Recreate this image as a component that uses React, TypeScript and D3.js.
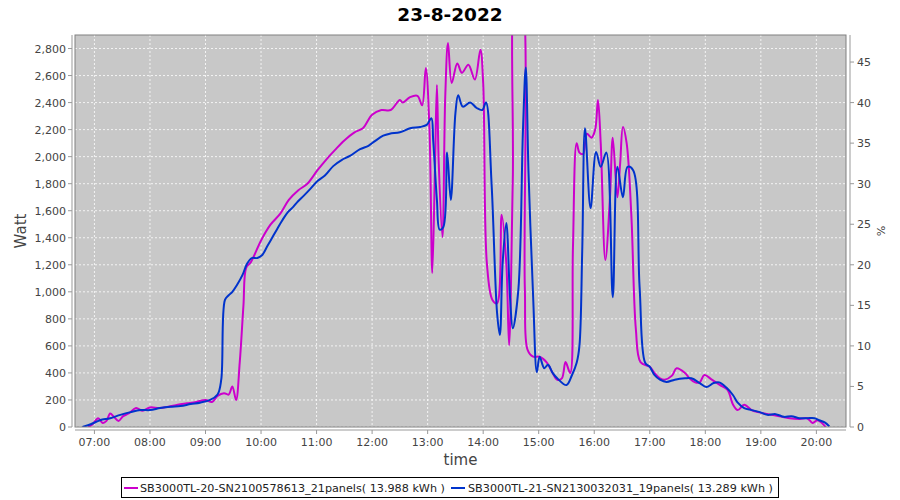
import React from "react";
import * as d3 from "d3";

const TITLE = "23-8-2022";
const SERIES_NAMES = [
  "SB3000TL-20-SN2100578613_21panels( 13.988 kWh )",
  "SB3000TL-21-SN2130032031_19panels( 13.289 kWh )",
];

const magentaTimes = [
  "06:53","06:58","07:04","07:09","07:13","07:17","07:21","07:26","07:31","07:37","07:45","07:52",
  "08:00","08:10","08:20","08:30","08:40","08:50","09:00","09:07","09:13","09:20","09:25","09:29",
  "09:33","09:37","09:41","09:44","09:49","10:00","10:10","10:21","10:30","10:40","10:50","11:01",
  "11:10","11:20","11:30","11:41","11:50","12:00","12:10","12:20","12:30","12:33","12:41","12:49",
  "12:54","12:58","13:02","13:05","13:08","13:10","13:12","13:16","13:19","13:22","13:26","13:32",
  "13:37","13:44","13:51","13:57","14:00","14:04","14:10","14:15","14:20","14:25","14:28","14:32",
  "14:36","14:40","14:45","14:48","14:54","15:01","15:09","15:15","15:20","15:25","15:29","15:34",
  "15:37","15:41","15:44","15:48","15:52","15:57","16:01","16:04","16:07","16:12","16:17","16:20",
  "16:25","16:28","16:31","16:35","16:40","16:45","16:50","17:00","17:05","17:11","17:16","17:24",
  "17:29","17:38","17:43","17:49","17:54","17:59","18:07","18:16","18:24","18:30","18:35","18:42",
  "18:50","18:57","19:04","19:12","19:20","19:31","19:42","19:50","19:56","20:01","20:06","20:10",
];
const magentaValues = [
  0, 20, 65, 30, 45, 100, 75, 45, 80, 100, 140, 120,
  145, 140, 150, 165, 175, 185, 200, 185, 230, 250, 240, 300,
  200, 480, 900, 1180, 1220, 1380, 1495, 1580, 1680, 1750, 1800, 1900,
  1975, 2050, 2120, 2180, 2210, 2310, 2345, 2345, 2420, 2400, 2440, 2450,
  2380, 2655, 2200, 1140, 1950, 2530, 1950, 1405, 2440, 2840, 2545, 2690,
  2620, 2680, 2570, 2790, 2545, 1210, 940, 915, 1570, 1210, 605, 1830,
  3300, 3300, 1035, 570, 520, 520, 475, 400, 350, 360, 480, 400,
  1330, 2100, 2030, 2020, 2170, 2140, 2200, 2420, 2100, 1235, 1700, 2140,
  1700, 1950, 2220, 2100, 1580, 720, 480, 445, 400, 360, 350, 380,
  435, 400, 360, 330, 330, 385, 350, 310, 275, 165, 125, 165,
  125, 110, 100, 90, 80, 65, 60, 65, 30, 50, 30, 0,
];

const blueTimes = [
  "06:47","06:56","07:06","07:17","07:28","07:39","07:50","08:00","08:11","08:22","08:33","08:44",
  "08:54","09:05","09:13","09:17","09:21","09:25","09:29","09:34","09:40","09:45","09:50","09:56",
  "10:01","10:07","10:12","10:17","10:23","10:29","10:35","10:40","10:46","10:53","11:01","11:09",
  "11:18","11:27","11:36","11:47","11:56","12:03","12:12","12:19","12:30","12:41","12:52","12:59",
  "13:04","13:06","13:10","13:13","13:17","13:21","13:25","13:30","13:33","13:38","13:46","13:53",
  "13:59","14:03","14:09","14:15","14:18","14:21","14:25","14:29","14:32","14:38","14:43","14:46",
  "14:49","14:54","14:58","15:01","15:06","15:10","15:15","15:20","15:30","15:36","15:41","15:44",
  "15:47","15:50","15:56","16:02","16:07","16:13","16:20","16:25","16:31","16:36","16:42","16:49",
  "16:55","17:00","17:05","17:11","17:18","17:27","17:38","17:45","17:54","18:01","18:09","18:15",
  "18:23","18:30","18:35","18:42","18:50","18:59","19:07","19:16","19:25","19:33","19:42","19:50",
  "19:58","20:03","20:09","20:14",
];
const blueValues = [
  0, 20, 50, 65, 90, 110, 125, 125, 140, 150, 155, 170,
  180, 200, 240, 350, 940, 975, 1000, 1050, 1125, 1210, 1250, 1250,
  1270, 1340, 1400, 1460, 1530, 1590, 1630, 1670, 1710, 1760, 1820, 1860,
  1930, 1975, 2005, 2055, 2080, 2115, 2155, 2170, 2180, 2210, 2220, 2235,
  2285, 2120, 1680, 1460, 1480, 2030, 1680, 2320, 2455, 2370, 2400, 2360,
  2345, 2400, 1810, 845, 680, 1210, 1510, 960, 730, 1015, 2200, 2660,
  1880, 960, 405, 520, 435, 460, 400, 360, 310, 385, 475, 600,
  1300, 2210, 1620, 2035, 1925, 2030, 960, 1925, 1700, 1925, 1900, 1035,
  475, 445, 385, 350, 333, 350, 360, 360, 325, 295, 325, 330,
  290, 235, 180, 140, 125, 110, 90, 95, 75, 80, 65, 65,
  65, 50, 35, 5,
];

const leftTicks = [0, 200, 400, 600, 800, 1000, 1200, 1400, 1600, 1800, 2000, 2200, 2400, 2600, 2800];
const rightTicks = [0, 5, 10, 15, 20, 25, 30, 35, 40, 45];
const hourTicks = ["07:00","08:00","09:00","10:00","11:00","12:00","13:00","14:00","15:00","16:00","17:00","18:00","19:00","20:00"];

const parse = (s: string) => {
  const [h, m] = s.split(":").map(Number);
  return new Date(2022, 7, 23, h, m);
};

export default function App() {
  const W = 900, H = 500;
  const L = 75, R = 846, T = 35, B = 427;
  const x = d3.scaleTime().domain([parse("06:39"), parse("20:32")]).range([L, R]);
  const y = d3.scaleLinear().domain([0, 2900]).range([B, T]);
  const y2 = d3.scaleLinear().domain([0, 2900 / 60]).range([B, T]);
  const fmt = d3.format(",");
  const line = d3.line<[Date, number]>().x(d => x(d[0])).y(d => y(d[1])).curve(d3.curveCatmullRom.alpha(0.5));
  const mData: [Date, number][] = magentaTimes.map((t, i) => [parse(t), magentaValues[i]]);
  const bData: [Date, number][] = blueTimes.map((t, i) => [parse(t), blueValues[i]]);
  const font = "'DejaVu Sans', sans-serif";
  const tickColor = "#444";
  return (
    <svg width={W} height={H} style={{ display: "block", position: "absolute", left: 0, top: 0 }} fontFamily={font}>
      <rect x={0} y={0} width={W} height={H} fill="#fff" />
      <text x={450} y={21} textAnchor="middle" fontWeight="bold" fontSize={18.5} fill="#000">{TITLE}</text>
      <defs>
        <clipPath id="plotclip"><rect x={L} y={T} width={R - L} height={B - T} /></clipPath>
      </defs>
      <rect x={L} y={T} width={R - L} height={B - T} fill="#c8c8c8" />
      {leftTicks.map(v => (
        <line key={"gy" + v} x1={L} x2={R} y1={y(v)} y2={y(v)} stroke="#fff" strokeWidth={0.8} strokeDasharray="2,2" />
      ))}
      {hourTicks.map(t => (
        <line key={"gx" + t} x1={x(parse(t))} x2={x(parse(t))} y1={T} y2={B} stroke="#fff" strokeWidth={0.8} strokeDasharray="2,2" />
      ))}
      <g clipPath="url(#plotclip)">
        <path d={line(mData) || ""} fill="none" stroke="#cc00cc" strokeWidth={2} />
        <path d={line(bData) || ""} fill="none" stroke="#0033cc" strokeWidth={2} />
      </g>
      <rect x={L} y={T} width={R - L} height={B - T} fill="none" stroke="#808080" strokeWidth={1} />
      {/* left axis */}
      <line x1={72} x2={72} y1={T} y2={B} stroke="#999" />
      {leftTicks.map(v => (
        <g key={"ly" + v}>
          <line x1={68} x2={72} y1={y(v)} y2={y(v)} stroke="#999" />
          <text x={66} y={y(v) + 4} textAnchor="end" fontSize={11} fill={tickColor}>{fmt(v)}</text>
        </g>
      ))}
      <text transform={`translate(26,${(T + B) / 2}) rotate(-90)`} textAnchor="middle" fontSize={15} fill={tickColor}>Watt</text>
      {/* right axis */}
      <line x1={850} x2={850} y1={T} y2={B} stroke="#999" />
      {rightTicks.map(v => (
        <g key={"ry" + v}>
          <line x1={850} x2={854} y1={y2(v)} y2={y2(v)} stroke="#999" />
          <text x={857} y={y2(v) + 4} textAnchor="start" fontSize={11} fill={tickColor}>{v}</text>
        </g>
      ))}
      <text transform={`translate(877,${(T + B) / 2}) rotate(90)`} textAnchor="middle" fontSize={11} fill={tickColor}>%</text>
      {/* bottom axis */}
      <line x1={L} x2={R} y1={430} y2={430} stroke="#999" />
      {hourTicks.map(t => (
        <g key={"bx" + t}>
          <line x1={x(parse(t))} x2={x(parse(t))} y1={430} y2={434} stroke="#999" />
          <text x={x(parse(t))} y={446} textAnchor="middle" fontSize={11} fill={tickColor}>{d3.timeFormat("%H:%M")(parse(t))}</text>
        </g>
      ))}
      <text x={(L + R) / 2} y={465} textAnchor="middle" fontSize={15} fill={tickColor}>time</text>
      {/* legend */}
      <rect x={121.5} y={477.5} width={657} height={20} fill="#fff" stroke="#000" />
      <line x1={124} x2={138} y1={488} y2={488} stroke="#cc00cc" strokeWidth={2} />
      <text x={140} y={492} fontSize={11.2} fill="#222">{SERIES_NAMES[0]}</text>
      <line x1={451} x2={465} y1={488} y2={488} stroke="#0033cc" strokeWidth={2} />
      <text x={468} y={492} fontSize={11.2} fill="#222">{SERIES_NAMES[1]}</text>
    </svg>
  );
}
